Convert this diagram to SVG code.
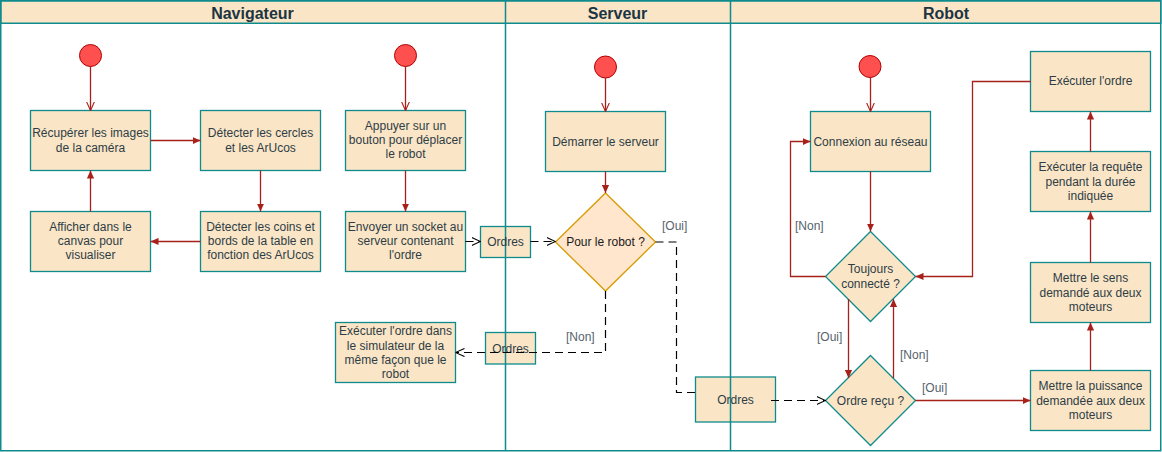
<svg xmlns="http://www.w3.org/2000/svg" width="1162" height="452" viewBox="0 0 1162 452">
<style>
text{font-family:"Liberation Sans",Arial,sans-serif;font-size:12px;fill:#2e3d45;text-anchor:middle}
.hd{font-size:16px;font-weight:bold;fill:#1b3542}
.lbl{fill:#56636c;text-anchor:start}
.box{fill:#fae5c7;stroke:#0f8b8d;stroke-width:1.3}
.obj{fill:#fae5c7;stroke:#0f8b8d;stroke-width:1.3}
.dec{fill:#fae5c7;stroke:#0f8b8d;stroke-width:1.3}
.dec2{fill:#ffe6cc;stroke:#d79b00;stroke-width:1.3}
.dark{fill:#1a1a1a}
.start{fill:#ff5050;stroke:#b20000;stroke-width:1}
.lane{fill:none;stroke:#0f8b8d;stroke-width:1.5}
.hdr{fill:#fae5c7;stroke:#0f8b8d;stroke-width:1.5}
.c{fill:none;stroke:#a8201a;stroke-width:1.3}
.cf{marker-end:url(#fa)}
.co{marker-end:url(#oa)}
.d{fill:none;stroke:#000;stroke-width:1.2;stroke-dasharray:8 5}
.dm{marker-end:url(#ba)}
</style>
<defs>
<marker id="fa" viewBox="0 0 10 10" refX="10" refY="5" markerWidth="8" markerHeight="8" orient="auto" markerUnits="userSpaceOnUse"><path d="M0,0.5 L10,5 L0,9.5 z" fill="#a8201a"/></marker>
<marker id="oa" viewBox="0 0 10 10" refX="10" refY="5" markerWidth="9" markerHeight="9" orient="auto" markerUnits="userSpaceOnUse"><path d="M0,0.5 L10,5 L0,9.5" fill="none" stroke="#a8201a" stroke-width="1.2"/></marker>
<marker id="ba" viewBox="0 0 10 10" refX="10" refY="5" markerWidth="9" markerHeight="9" orient="auto" markerUnits="userSpaceOnUse"><path d="M0,0.5 L10,5 L0,9.5" fill="none" stroke="#000" stroke-width="1.2"/></marker>
</defs>
<rect width="1162" height="452" fill="#fff"/>
<g id="lanes">
<rect class="hdr" x="0.75" y="0.75" width="1160" height="22.5"/>
<rect class="lane" x="0.75" y="0.75" width="1160" height="450"/>
<text class="hd" x="252.5" y="18.5">Navigateur</text>
<text class="hd" x="617.5" y="18.5">Serveur</text>
<text class="hd" x="946" y="18.5">Robot</text>
</g>
<g id="nodes">
<g id="start1"><circle class="start" cx="90.5" cy="55.5" r="11"/></g>
<g id="start2"><circle class="start" cx="405.5" cy="55.5" r="11"/></g>
<g id="start3"><circle class="start" cx="605.5" cy="67" r="11"/></g>
<g id="start4"><circle class="start" cx="870" cy="66.5" r="11"/></g>
<g id="recuperer"><rect class="box" x="30.5" y="110.5" width="120" height="60"/><text x="90.5" y="137">Récupérer les images</text><text x="90.5" y="152">de la caméra</text></g>
<g id="cercles"><rect class="box" x="200.5" y="110.5" width="120" height="60"/><text x="260.5" y="137">Détecter les cercles</text><text x="260.5" y="152">et les ArUcos</text></g>
<g id="appuyer"><rect class="box" x="345.5" y="110.5" width="120" height="60"/><text x="405.5" y="130">Appuyer sur un</text><text x="405.5" y="144">bouton pour déplacer</text><text x="405.5" y="158">le robot</text></g>
<g id="afficher"><rect class="box" x="30.5" y="211.5" width="120" height="60"/><text x="90.5" y="231">Afficher dans le</text><text x="90.5" y="245">canvas pour</text><text x="90.5" y="259">visualiser</text></g>
<g id="coins"><rect class="box" x="200.5" y="211.5" width="120" height="60"/><text x="260.5" y="231">Détecter les coins et</text><text x="260.5" y="245">bords de la table en</text><text x="260.5" y="259">fonction des ArUcos</text></g>
<g id="envoyer"><rect class="box" x="345.5" y="211.5" width="120" height="60"/><text x="405.5" y="231">Envoyer un socket au</text><text x="405.5" y="245">serveur contenant</text><text x="405.5" y="259">l'ordre</text></g>
<g id="simulateur"><rect class="box" x="335.5" y="322.5" width="120" height="60"/><text x="395.5" y="335">Exécuter l'ordre dans</text><text x="395.5" y="349.5">le simulateur de la</text><text x="395.5" y="364">même façon que le</text><text x="395.5" y="378">robot</text></g>
<g id="demarrer"><rect class="box" x="545.5" y="111.5" width="120" height="60"/><text x="605.5" y="145.5">Démarrer le serveur</text></g>
<g id="pourrobot"><path class="dec2" d="M605.5,193 L655.5,242 L605.5,291 L555.5,242 Z"/><text class="dark" x="605.5" y="246">Pour le robot ?</text></g>
<g id="ordres1"><rect class="obj" x="480.5" y="226.5" width="50" height="31"/></g>
<g id="ordres2"><rect class="obj" x="485.5" y="332.5" width="50" height="31.5"/></g>
<g id="ordres3"><rect class="obj" x="695.5" y="377" width="80" height="45"/></g>
<g id="connexion"><rect class="box" x="810.5" y="111.5" width="120" height="60"/><text x="870.5" y="145.5">Connexion au réseau</text></g>
<g id="toujours"><path class="dec" d="M870.5,231.5 L915.5,276.5 L870.5,321.5 L825.5,276.5 Z"/><text x="870.5" y="273">Toujours</text><text x="870.5" y="288">connecté ?</text></g>
<g id="ordrerecu"><path class="dec" d="M870.5,355.5 L915.5,400.5 L870.5,445.5 L825.5,400.5 Z"/><text x="870.5" y="404.5">Ordre reçu ?</text></g>
<g id="executer"><rect class="box" x="1030.5" y="51.5" width="120" height="60"/><text x="1090.5" y="85">Exécuter l'ordre</text></g>
<g id="requete"><rect class="box" x="1030.5" y="151.5" width="120" height="60"/><text x="1090.5" y="171">Exécuter la requête</text><text x="1090.5" y="185.5">pendant la durée</text><text x="1090.5" y="200">indiquée</text></g>
<g id="sens"><rect class="box" x="1030.5" y="262.5" width="120" height="60"/><text x="1090.5" y="282">Mettre le sens</text><text x="1090.5" y="296.5">demandé aux deux</text><text x="1090.5" y="311">moteurs</text></g>
<g id="puissance"><rect class="box" x="1030.5" y="370.5" width="120" height="60"/><text x="1090.5" y="390">Mettre la puissance</text><text x="1090.5" y="404.5">demandée aux deux</text><text x="1090.5" y="419">moteurs</text></g>
</g>
<g id="dividers">
<line class="lane" x1="505.5" y1="0" x2="505.5" y2="451"/>
<line class="lane" x1="730.5" y1="0" x2="730.5" y2="451"/>
</g>
<g id="objlabels">
<text x="505.5" y="246">Ordres</text>
<text x="510.5" y="352.5">Ordres</text>
<text x="735.5" y="403.5">Ordres</text>
</g>
<g id="connectors">
<path class="c co" d="M90.5,66.5 V110.5"/>
<path class="c co" d="M405.5,66.5 V110.5"/>
<path class="c co" d="M605.5,78 V111.5"/>
<path class="c co" d="M870.5,77.5 V111.5"/>
<path class="c cf" d="M150.5,140.5 H200.5"/>
<path class="c cf" d="M260.5,170.5 V211.5"/>
<path class="c cf" d="M200.5,241.5 H150.5"/>
<path class="c cf" d="M90.5,211.5 V170.5"/>
<path class="c cf" d="M405.5,170.5 V211.5"/>
<path class="c cf" d="M605.5,171.5 V193"/>
<path class="d dm" d="M465.5,241.5 H480.5"/>
<path class="d dm" d="M530.5,241.5 H555.5"/>
<path class="d" d="M655.5,242 H676.5 V392.5 H695.5"/>
<path class="d dm" d="M605.5,291 V352.5 H455.5"/>
<path class="d dm" d="M771,400.5 H825.5"/>
<path class="c cf" d="M870.5,171.5 V231.5"/>
<path class="c cf" d="M825.5,276.5 H790.5 V141.5 H810.5"/>
<path class="c cf" d="M1030.5,81.5 H972.5 V276.5 H915.5"/>
<path class="c cf" d="M848.5,299 V378"/>
<path class="c cf" d="M893.5,378 V299"/>
<path class="c cf" d="M915.5,400.5 H1030.5"/>
<path class="c cf" d="M1090.5,370.5 V322.5"/>
<path class="c cf" d="M1090.5,262.5 V211.5"/>
<path class="c cf" d="M1090.5,151.5 V111.5"/>
</g>
<g id="labels">
<text class="lbl" x="662" y="230">[Oui]</text>
<text class="lbl" x="566" y="341">[Non]</text>
<text class="lbl" x="795" y="230">[Non]</text>
<text class="lbl" x="817" y="341">[Oui]</text>
<text class="lbl" x="900" y="359">[Non]</text>
<text class="lbl" x="922" y="392">[Oui]</text>
</g>
</svg>
